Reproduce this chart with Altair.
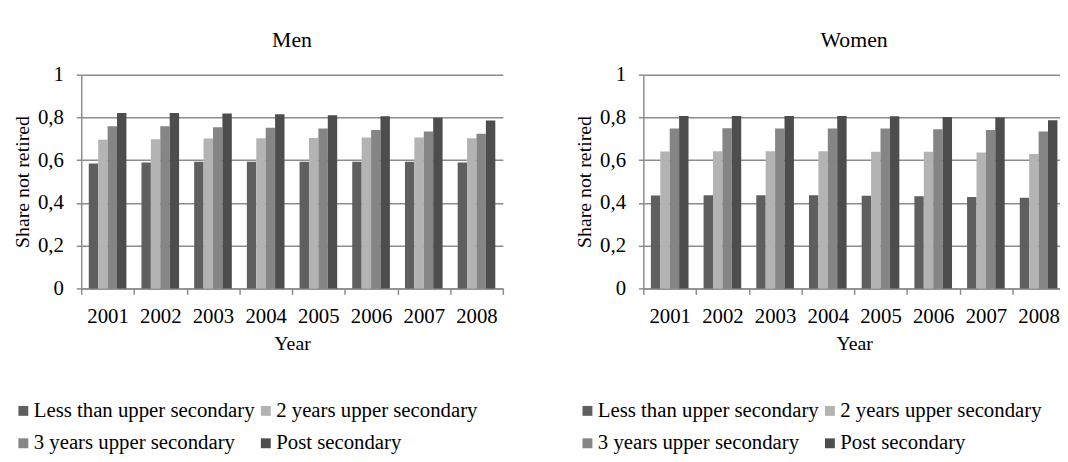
import altair as alt
import pandas as pd

years = ["2001", "2002", "2003", "2004", "2005", "2006", "2007", "2008"]
levels = ["Less than upper secondary", "2 years upper secondary",
          "3 years upper secondary", "Post secondary"]
colors = ["#5f5f5f", "#b3b3b3", "#858585", "#4d4d4d"]

men_less = [0.584, 0.589, 0.592, 0.593, 0.593, 0.593, 0.592, 0.589]
men_two = [0.696, 0.698, 0.701, 0.702, 0.704, 0.706, 0.706, 0.702]
men_three = [0.759, 0.759, 0.754, 0.751, 0.748, 0.741, 0.734, 0.724]
men_post = [0.821, 0.821, 0.818, 0.815, 0.810, 0.805, 0.798, 0.785]

women_less = [0.435, 0.436, 0.436, 0.436, 0.433, 0.431, 0.428, 0.424]
women_two = [0.640, 0.642, 0.642, 0.642, 0.639, 0.639, 0.636, 0.629]
women_three = [0.748, 0.749, 0.748, 0.748, 0.748, 0.745, 0.741, 0.734]
women_post = [0.807, 0.807, 0.807, 0.807, 0.805, 0.802, 0.799, 0.787]

FONT = "Liberation Serif"
GRID = "#8c8c8c"


def make_df(series):
    rows = []
    for lvl, vals in zip(levels, series):
        for y, v in zip(years, vals):
            rows.append({"Year": y, "Level": lvl, "Value": v})
    return pd.DataFrame(rows)


def panel(title, series, width, legend_x):
    df = make_df(series)
    return alt.Chart(df).mark_bar().encode(
        x=alt.X("Year:N", sort=years, title="Year",
                scale=alt.Scale(paddingInner=0, paddingOuter=0),
                axis=alt.Axis(tickBand="extent", labelAngle=0, grid=False,
                              domainColor=GRID, domainWidth=1.5,
                              tickColor=GRID, tickWidth=1.5, tickSize=6,
                              labelPadding=11, titlePadding=8)),
        xOffset=alt.XOffset("Level:N", sort=levels,
                            scale=alt.Scale(paddingInner=0, paddingOuter=0.8)),
        y=alt.Y("Value:Q", title="Share not retired",
                scale=alt.Scale(domain=[0, 1]),
                axis=alt.Axis(values=[0, 0.2, 0.4, 0.6, 0.8, 1],
                              format=".1~f",
                              labelExpr="replace(datum.label, '.', ',')",
                              grid=True, gridColor=GRID, gridWidth=1.5,
                              domainColor=GRID, domainWidth=1.5,
                              tickColor=GRID, tickWidth=1.5, tickSize=5,
                              labelPadding=13, titlePadding=5)),
        color=alt.Color("Level:N", sort=levels,
                        scale=alt.Scale(domain=levels, range=colors),
                        legend=alt.Legend(orient="none", legendX=legend_x,
                                          legendY=329, columns=2, title=None,
                                          direction="horizontal",
                                          symbolType="square", symbolSize=100,
                                          symbolStrokeWidth=0,
                                          labelFont=FONT, labelFontSize=21,
                                          labelColor="black", labelOffset=0,
                                          columnPadding=0, rowPadding=11,
                                          labelLimit=400)),
    ).properties(
        width=width, height=216,
        title=alt.TitleParams(title, font=FONT, fontSize=22,
                              fontWeight="normal", color="black", offset=12)
    )


men = panel("Men", [men_less, men_two, men_three, men_post], 426, -69)
women = panel("Women", [women_less, women_two, women_three, women_post], 426, -67)

chart = alt.hconcat(men, women, spacing=71).resolve_scale(
    color="independent"
).resolve_legend(color="independent").properties(
    padding={"left": 4, "top": 19, "right": -6, "bottom": 0}
).configure_view(stroke=None).configure_axis(
    labelFont=FONT, labelFontSize=21, labelColor="black",
    titleFont=FONT, titleFontSize=20, titleColor="black",
    titleFontWeight="normal"
)

chart.save("out.html", embed_options={"renderer": "svg", "actions": False})
